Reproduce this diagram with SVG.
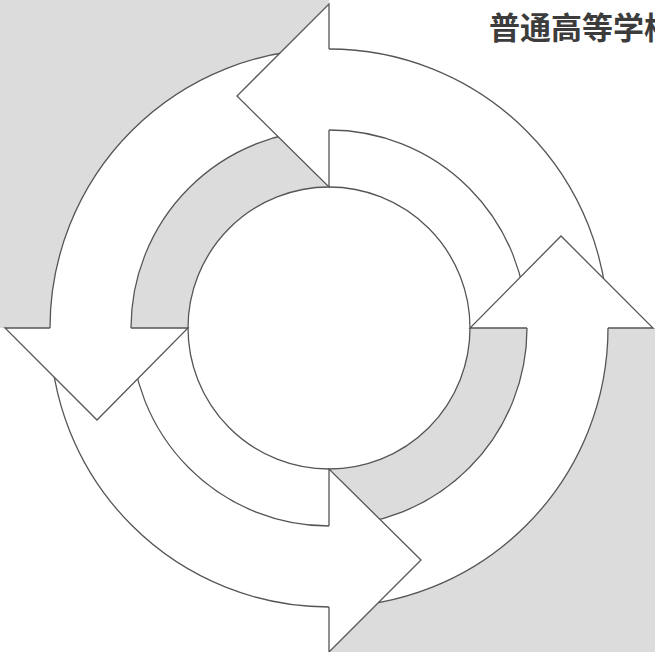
<svg xmlns="http://www.w3.org/2000/svg" xmlns:xlink="http://www.w3.org/1999/xlink" width="655" height="652" viewBox="0 0 655 652">
  <style>
    .bg { fill: #dcdcdc; }
    .fillw { fill: #ffffff; stroke: none; }
    .line { fill: none; stroke: #555555; stroke-width: 1.3; stroke-linejoin: miter; }
    .head { fill: #ffffff; stroke: #555555; stroke-width: 1.3; stroke-linejoin: miter; }
    .title { font-family: "Noto Sans CJK SC", "Noto Sans", sans-serif; font-weight: bold; font-size: 31px; fill: #3c3c3c; }
  </style>
  <defs>
    <!-- body of the arrow that runs from 3 o'clock to 12 o'clock (counterclockwise) -->
    <g id="body">
      <path class="fillw" d="M608,328 A279,279 0 0 0 321.7,49.1 L323.82,130.07 A198,198 0 0 1 527,328 Z"/>
      <path class="line" d="M608,328 A279,279 0 0 0 329,49"/>
      <path class="line" d="M527,328 A198,198 0 0 0 329,130"/>
    </g>
    <!-- head at 12 o'clock pointing left -->
    <path id="head" class="head" d="M329,49 L329,4 L237,96 L329,187 L329,130"/>
  </defs>

  <!-- background quadrants -->
  <rect class="bg" x="0" y="0" width="329" height="328"/>
  <rect class="bg" x="329" y="328" width="326" height="324"/>

  <text class="title" x="489" y="39">普通高等学校</text>

  <g id="center-circle">
    <circle cx="329" cy="328" r="141" fill="#ffffff" stroke="#555555" stroke-width="1.3"/>
  </g>

  <g id="connectors">
    <g id="arrow-top-body"><use xlink:href="#body"/></g>
    <g id="arrow-left-body"><use xlink:href="#body" transform="rotate(-90 329 328)"/></g>
    <g id="arrow-bottom-body"><use xlink:href="#body" transform="rotate(-180 329 328)"/></g>
    <g id="arrow-right-body"><use xlink:href="#body" transform="rotate(90 329 328)"/></g>

    <g id="arrow-top-head"><use xlink:href="#head"/></g>
    <g id="arrow-left-head"><use xlink:href="#head" transform="rotate(-90 329 328)"/></g>
    <g id="arrow-bottom-head"><use xlink:href="#head" transform="rotate(-180 329 328)"/></g>
    <g id="arrow-right-head"><use xlink:href="#head" transform="rotate(90 329 328)"/></g>
  </g>
</svg>
